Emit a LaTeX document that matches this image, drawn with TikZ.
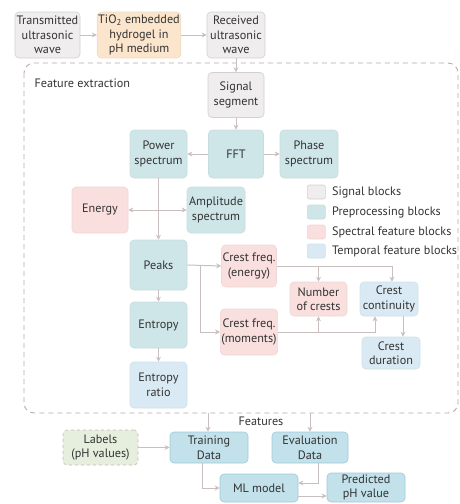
\documentclass[tikz,border=0pt]{standalone}
\usepackage{fontspec}
\setmainfont{PT Sans}
\usepackage{tikz}
\usetikzlibrary{arrows.meta,positioning,scopes}

\definecolor{txt}{HTML}{333333}
\definecolor{lin}{HTML}{C9BFBF}
\definecolor{frm}{HTML}{B9A9A9}
\definecolor{sigfill}{HTML}{EFEDED}
\definecolor{sigdraw}{HTML}{D4D0D0}
\definecolor{prefill}{HTML}{CFE6E8}
\definecolor{spefill}{HTML}{F9DFDE}
\definecolor{temfill}{HTML}{DAEAF4}
\definecolor{tiofill}{HTML}{FBE5CC}
\definecolor{lblfill}{HTML}{E6EFDD}
\definecolor{datfill}{HTML}{C2E1EA}
\definecolor{datdraw}{HTML}{9FCBDA}

\begin{document}
\begin{tikzpicture}[x=1pt,y=-1pt,
  every node/.style={font=\fontsize{12.2}{14.5}\selectfont,text=txt},
  wh/.style 2 args={minimum width=#1pt,minimum height=#2pt},
  blk/.style={rounded corners=4pt,align=center,inner sep=1pt,line width=0.6pt},
  sig/.style={blk,fill=sigfill,draw=sigdraw},
  pre/.style={blk,fill=prefill,draw=prefill!90!gray},
  spec/.style={blk,fill=spefill,draw=spefill!92!gray},
  temp/.style={blk,fill=temfill,draw=temfill!90!gray},
  dat/.style={blk,fill=datfill,draw=datdraw},
  conn/.style={draw=lin,line width=1pt,-{Stealth[length=5pt,width=5pt]}}]
  \useasboundingbox (0,0) rectangle (460,504);

  % acquisition
  \node[sig,wh={65}{46}] (trans) at (47.5,35) {Transmitted\\ultrasonic\\wave};
  \node[blk,fill=tiofill,draw=tiofill!90!gray,wh={82}{46}] (tio) at (139,35) {TiO\textsubscript{2} embedded\\hydrogel in\\pH medium};
  \node[sig,wh={58}{46}] (rec) at (236,35) {Received\\ultrasonic\\wave};

  % feature extraction
  \draw[frm,line width=0.9pt,dash pattern=on 5pt off 4pt,rounded corners=10pt] (24,63) rectangle (458,413);
  \node[anchor=west] (fx) at (31,83) {Feature extraction};
  \node[sig,wh={56}{45}] (seg) at (236,95) {Signal\\segment};
  \node[pre,wh={55}{48}] (fft) at (236,154) {FFT};
  \node[pre,wh={57}{48}] (pow) at (158.5,154) {Power\\spectrum};
  \node[pre,wh={58}{48}] (phase) at (309,154) {Phase\\spectrum};
  \node[spec,wh={56}{46}] (energy) at (100,210) {Energy};
  \node[pre,wh={58}{46}] (amp) at (216,210) {Amplitude\\spectrum};
  \node[pre,wh={57}{50}] (peaks) at (158.5,265) {Peaks};
  \node[pre,wh={57}{46}] (ent) at (158.5,325) {Entropy};
  \node[temp,wh={57}{46}] (eratio) at (158.5,385) {Entropy\\ratio};
  \node[spec,wh={55}{42}] (cen) at (249,266) {Crest freq.\\(energy)};
  \node[spec,wh={55}{46}] (cmom) at (249,332) {Crest freq.\\(moments)};
  \node[spec,wh={57}{34}] (ncr) at (318.5,299) {Number\\of crests};
  \node[temp,wh={58}{34}] (ccont) at (389,299) {Crest\\continuity};
  \node[temp,wh={58}{32}] (cdur) at (391,353) {Crest\\duration};

  % legend
  {[every node/.append style={anchor=west}]
    \node[sig,wh={18}{14},rounded corners=2pt] (lsig) at (307,192) {};
    \node[right=3pt of lsig] {Signal blocks};
    \node[pre,wh={18}{14},rounded corners=2pt] (lpre) at (307,212) {};
    \node[right=3pt of lpre] {Preprocessing blocks};
    \node[spec,wh={18}{14},rounded corners=2pt] (lspe) at (307,232) {};
    \node[right=3pt of lspe] {Spectral feature blocks};
    \node[temp,wh={18}{14},rounded corners=2pt] (ltem) at (307,251) {};
    \node[right=3pt of ltem] {Temporal feature blocks};
  }

  % learning
  \node (feat) at (261,421) {Features};
  \node[blk,fill=lblfill,draw=frm!80,dashed,wh={75}{35}] (lbl) at (100.5,447.5) {Labels\\(pH values)};
  \node[dat,wh={78}{31}] (train) at (209,447.5) {Training\\Data};
  \node[dat,wh={76}{31}] (eval) at (310,447.5) {Evaluation\\Data};
  \node[dat,wh={78}{28}] (ml) at (259,488) {ML model};
  \node[dat,wh={78}{29}] (pred) at (366,487.5) {Predicted\\pH value};
  \coordinate (ftrain) at (208,413);
  \coordinate (feval) at (310,413);
  \coordinate (mlout) at ([yshift=-8pt]ml.east);

  % connectors
  \draw[conn] (trans) -- (tio);
  \draw[conn] (tio) -- (rec);
  \draw[conn] (rec) -- (seg);
  \draw[conn] (seg) -- (fft);
  \draw[conn] (fft) -- (pow);
  \draw[conn] (fft) -- (phase);
  \draw[conn] (pow) -- (peaks);
  \draw[conn,{Stealth[length=5pt,width=5pt]}-{Stealth[length=5pt,width=5pt]}] (energy) -- (amp);
  \draw[conn] (peaks) -- (ent);
  \draw[conn] (ent) -- (eratio);
  \draw[conn] (peaks.east) -- (cen.west);
  \draw[conn] (peaks.east) ++(13,0) |- (cmom.west);
  \draw[conn] (cen.east) -| ([xshift=3pt]ccont.north);
  \draw[conn] (cen.east) -| (ncr.north);
  \draw[conn] (cmom.east) -| ([xshift=-14pt]ccont.south);
  \draw[conn] (cmom.east) -| (ncr.south);
  \draw[conn] ([xshift=14pt]ccont.south) -- ([xshift=12pt]cdur.north);
  \draw[conn] (ftrain) -- (train.north -| ftrain);
  \draw[conn] (feval) -- (eval.north);
  \draw[conn] (lbl) -- (train);
  \draw[conn] ([xshift=-7pt]train.south) |- (ml.west);
  \draw[conn] ([xshift=8pt]eval.south) |- ([yshift=5pt]ml.east);
  \draw[conn] (mlout) -- (mlout -| pred.west);
\end{tikzpicture}
\end{document}
